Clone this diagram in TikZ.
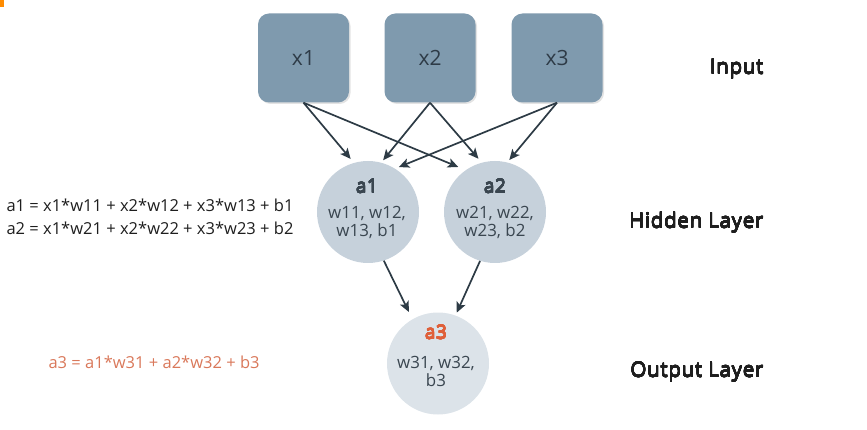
\documentclass[tikz,border=0pt]{standalone}
\usepackage{fontspec}
\setmainfont{Open Sans}
\newfontfamily\semibw{Open Sans}[LetterSpace=3.5]
\newfontfamily\semibt{Open Sans}[LetterSpace=2]
\usepackage[copies]{contour}
\contourlength{0.14pt}
\contournumber{16}
\usetikzlibrary{arrows.meta,shadows}
\definecolor{boxfill}{HTML}{7F9AAE}
\definecolor{boxtext}{HTML}{2E3B47}
\definecolor{hidfill}{HTML}{C6D1DB}
\definecolor{outfill}{HTML}{DCE3E9}
\definecolor{nodetext}{HTML}{3A4650}
\definecolor{arrowcol}{HTML}{2D3B45}
\definecolor{accent}{HTML}{E0603A}
\definecolor{eqaccent}{HTML}{D9785A}
\definecolor{labeltext}{HTML}{1E1E1E}
\tikzset{
  inbox/.style={draw=none, fill=boxfill, rounded corners=11pt, minimum width=91pt, minimum height=89pt,
    text=boxtext, font=\fontsize{21}{24}\selectfont,
    drop shadow={opacity=0.22, shadow xshift=1.5pt, shadow yshift=-1.5pt}},
  hidnode/.style={circle, draw=none, fill=hidfill, minimum size=102pt, inner sep=0pt},
  outnode/.style={circle, draw=none, fill=outfill, minimum size=102pt, inner sep=0pt},
  ntitle/.style={anchor=base, font=\semibt\fontsize{19}{22}\selectfont},
  nline/.style={anchor=base, font=\fontsize{16.9}{19}\selectfont, text=nodetext},
  conn/.style={draw=arrowcol, line width=1.7pt, -{Stealth[length=10.5pt,width=9.5pt,inset=2.5pt]}},
  eq/.style={anchor=base west, font=\fontsize{16.5}{19}\selectfont, text=labeltext},
  layer/.style={anchor=base east, font=\semibw\fontsize{20.5}{24}\selectfont}
}
\begin{document}
\begin{tikzpicture}[x=1pt,y=-1pt]
\useasboundingbox (0,0) rectangle (867,430);
\fill[orange!90!yellow] (0,0) rectangle (4,7);
% input boxes
\node[inbox] (x1) at (303.5,58) {x1};
\node[inbox] (x2) at (430,58) {x2};
\node[inbox] (x3) at (557,58) {x3};
% hidden and output nodes
\node[hidnode] (a1) at (368,212) {};
\node[hidnode] (a2) at (495,212) {};
\node[outnode] (a3) at (438,363.5) {};
% node texts
\node[ntitle] (t1) at (367,193) {\contour{nodetext}{\color{nodetext}a1}};
\node[nline] (l11) at (367,219) {w11, w12,};
\node[nline] (l12) at (367,237) {w13, b1};
\node[ntitle] (t2) at (495,193) {\contour{nodetext}{\color{nodetext}a2}};
\node[nline] (l21) at (495,219) {w21, w22,};
\node[nline] (l22) at (495,237) {w23, b2};
\node[ntitle] (t3) at (436,339) {\contour{accent}{\color{accent}a3}};
\node[nline] (l31) at (436,368) {w31, w32,};
\node[nline] (l32) at (436,386) {b3};
% connectors
\draw[conn, shorten >=5pt] (x1.south) -- (a1.106);
\draw[conn, shorten >=8pt] (x1.south) -- (a2.125);
\draw[conn, shorten >=3pt] (x2.south) -- (a1.75);
\draw[conn, shorten >=5pt] (x2.south) -- (a2.105);
\draw[conn, shorten >=4pt] (x3.south) -- (a1.58);
\draw[conn, shorten >=3pt] (x3.south) -- (a2.76);
\draw[conn, shorten >=8pt] (a1.-72) -- (a3.120);
\draw[conn, shorten >=3pt] (a2.-107) -- (a3.70);
% equations
\node[eq] (e1) at (3,212) {a1 = x1*w11 + x2*w12 + x3*w13 + b1};
\node[eq] (e2) at (3,235) {a2 = x1*w21 + x2*w22 + x3*w23 + b2};
\node[eq, text=eqaccent] (e3) at (45,368) {a3 = a1*w31 + a2*w32 + b3};
% layer labels
\node[layer] (li) at (767,74) {\contour{labeltext}{\color{labeltext}Input}};
\node[layer] (lh) at (767,228) {\contour{labeltext}{\color{labeltext}Hidden Layer}};
\node[layer] (lo) at (767,377) {\contour{labeltext}{\color{labeltext}Output Layer}};
\end{tikzpicture}
\end{document}
